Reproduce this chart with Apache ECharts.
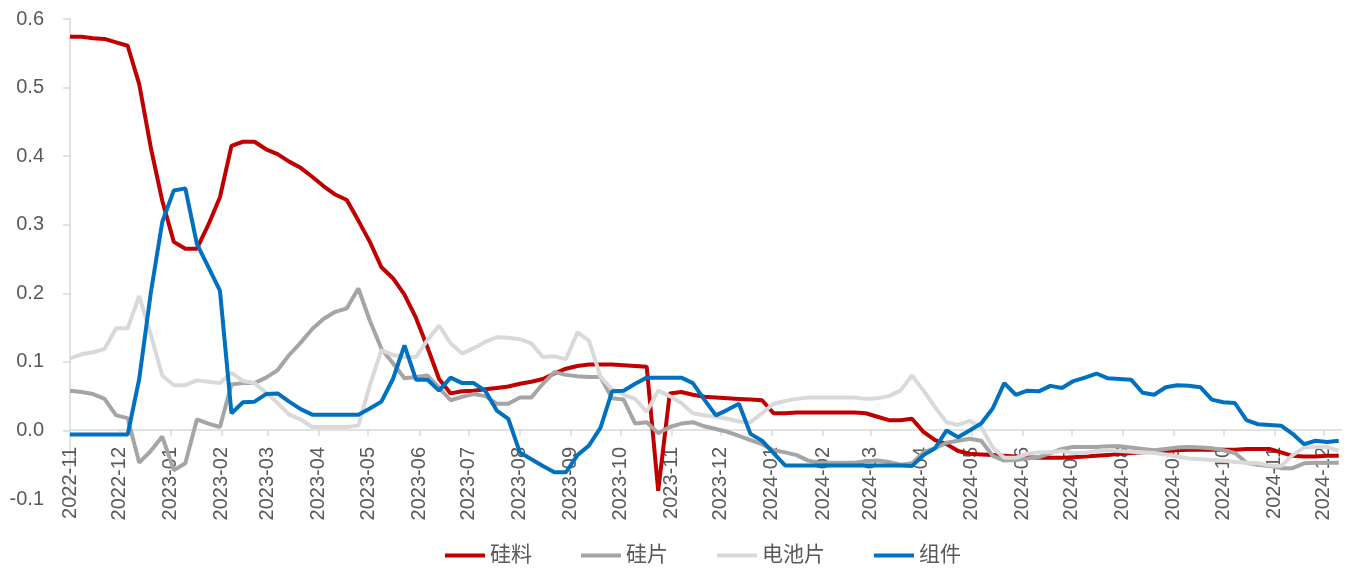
<!DOCTYPE html>
<html>
<head>
<meta charset="utf-8">
<script src="https://cdn.jsdelivr.net/npm/echarts@6/dist/echarts.min.js"></script>
<style>
  html, body { margin: 0; padding: 0; background: #fff; }
  #chart { width: 1357px; height: 568px; }
</style>
</head>
<body>
<div id="chart"></div>
<script>
// month tick labels on the x axis
const monthLabels = [
  '2022-11', '2022-12', '2023-01', '2023-02', '2023-03', '2023-04', '2023-05',
  '2023-06', '2023-07', '2023-08', '2023-09', '2023-10', '2023-11', '2023-12',
  '2024-01', '2024-02', '2024-03', '2024-04', '2024-05', '2024-06', '2024-07',
  '2024-08', '2024-09', '2024-10', '2024-11', '2024-12'
]
// values are sampled once a week, starting here
const startDate = '2022-11-01'
const axisEnd = '2024-12-12'

const seriesNames = ['硅料', '硅片', '电池片', '组件']

const polysilicon = [
  0.574, 0.574, 0.572, 0.571, 0.566, 0.561, 0.505, 0.413, 0.335, 0.275,
  0.265, 0.265, 0.300, 0.340, 0.415, 0.421, 0.421, 0.410, 0.403, 0.392,
  0.383, 0.370, 0.356, 0.344, 0.336, 0.306, 0.275, 0.238, 0.222, 0.198,
  0.164, 0.121, 0.075, 0.054, 0.057, 0.058, 0.060, 0.062, 0.064, 0.068,
  0.071, 0.075, 0.083, 0.090, 0.094, 0.096, 0.096, 0.096, 0.095, 0.094,
  0.093, -0.088, 0.054, 0.056, 0.052, 0.049, 0.048, 0.047, 0.046, 0.045,
  0.044, 0.025, 0.025, 0.026, 0.026, 0.026, 0.026, 0.026, 0.026, 0.025,
  0.020, 0.015, 0.015, 0.017, -0.002, -0.014, -0.020, -0.030, -0.034, -0.035,
  -0.036, -0.037, -0.038, -0.039, -0.040, -0.040, -0.040, -0.039, -0.038, -0.037,
  -0.036, -0.034, -0.033, -0.032, -0.031, -0.030, -0.029, -0.028, -0.028, -0.028,
  -0.028, -0.028, -0.027, -0.027, -0.027, -0.032, -0.037, -0.038, -0.038, -0.037,
  -0.037
]

const wafer = [
  0.058, 0.056, 0.053, 0.046, 0.022, 0.018, -0.047, -0.030, -0.009, -0.058,
  -0.048, 0.016, 0.010, 0.005, 0.067, 0.069, 0.069, 0.077, 0.088, 0.110,
  0.128, 0.148, 0.163, 0.173, 0.178, 0.207, 0.160, 0.119, 0.098, 0.076,
  0.078, 0.080, 0.062, 0.044, 0.049, 0.053, 0.050, 0.039, 0.039, 0.048,
  0.048, 0.068, 0.085, 0.081, 0.079, 0.078, 0.078, 0.047, 0.045, 0.010,
  0.012, -0.004, 0.005, 0.010, 0.012, 0.006, 0.002, -0.002, -0.008, -0.014,
  -0.020, -0.029, -0.032, -0.036, -0.044, -0.047, -0.047, -0.047, -0.047, -0.045,
  -0.044, -0.046, -0.050, -0.048, -0.032, -0.026, -0.018, -0.015, -0.012, -0.015,
  -0.037, -0.044, -0.043, -0.041, -0.039, -0.033, -0.027, -0.024, -0.024, -0.024,
  -0.023, -0.023, -0.025, -0.027, -0.029, -0.027, -0.025, -0.024, -0.025, -0.026,
  -0.029, -0.033, -0.047, -0.050, -0.052, -0.055, -0.055, -0.048, -0.047, -0.047,
  -0.047
]

const cell = [
  0.105, 0.111, 0.114, 0.119, 0.149, 0.149, 0.196, 0.140, 0.080, 0.066,
  0.066, 0.073, 0.071, 0.069, 0.084, 0.072, 0.069, 0.055, 0.040, 0.023,
  0.016, 0.005, 0.005, 0.005, 0.005, 0.007, 0.066, 0.117, 0.110, 0.107,
  0.107, 0.132, 0.153, 0.127, 0.112, 0.120, 0.129, 0.136, 0.135, 0.133,
  0.127, 0.107, 0.108, 0.104, 0.143, 0.131, 0.078, 0.060, 0.052, 0.046,
  0.027, 0.058, 0.050, 0.040, 0.025, 0.022, 0.020, 0.017, 0.013, 0.012,
  0.025, 0.039, 0.043, 0.046, 0.048, 0.048, 0.048, 0.048, 0.048, 0.046,
  0.047, 0.050, 0.058, 0.080, 0.058, 0.034, 0.012, 0.008, 0.014, 0.005,
  -0.025, -0.040, -0.040, -0.034, -0.032, -0.032, -0.030, -0.033, -0.033, -0.030,
  -0.029, -0.030, -0.031, -0.032, -0.033, -0.035, -0.038, -0.041, -0.042, -0.043,
  -0.044, -0.046, -0.047, -0.048, -0.051, -0.052, -0.036, -0.025, -0.024, -0.024,
  -0.030
]

const pvModule = [
  -0.006, -0.006, -0.006, -0.006, -0.006, -0.006, 0.075, 0.200, 0.304, 0.350,
  0.353, 0.272, 0.238, 0.204, 0.025, 0.041, 0.042, 0.053, 0.054, 0.042,
  0.031, 0.023, 0.023, 0.023, 0.023, 0.023, 0.032, 0.042, 0.075, 0.124,
  0.074, 0.074, 0.058, 0.077, 0.069, 0.069, 0.058, 0.029, 0.017, -0.032,
  -0.042, -0.052, -0.061, -0.061, -0.036, -0.022, 0.004, 0.057, 0.058, 0.068,
  0.077, 0.077, 0.077, 0.077, 0.069, 0.045, 0.022, 0.030, 0.039, -0.005,
  -0.015, -0.033, -0.051, -0.051, -0.051, -0.051, -0.051, -0.051, -0.051, -0.051,
  -0.051, -0.051, -0.051, -0.052, -0.036, -0.026, 0.000, -0.010, 0.000, 0.010,
  0.032, 0.069, 0.052, 0.058, 0.057, 0.065, 0.062, 0.072, 0.077, 0.083,
  0.076, 0.075, 0.074, 0.055, 0.052, 0.063, 0.066, 0.065, 0.063, 0.045,
  0.041, 0.040, 0.015, 0.009, 0.008, 0.007, -0.005, -0.020, -0.015, -0.017,
  -0.015
]

const colors = ['#C00000', '#A5A5A5', '#D9D9D9', '#0070C0']
const DAY = 24 * 3600 * 1000

function toTime(s) {
  const p = s.split('-')
  return Date.UTC(+p[0], +p[1] - 1, +(p[2] || 1))
}

const start = toTime(startDate)
const end = toTime(axisEnd)
const dates = polysilicon.map((v, i) => start + i * 7 * DAY)
const monthTicks = monthLabels.map(toTime)

function pairs(values) {
  return values.map((v, i) => [dates[i], v])
}

const textColor = '#595959'
const axisColor = '#D9D9D9'
const latin = "'Liberation Sans', Arial, 'Noto Sans CJK SC', sans-serif"

const option = {
  animation: false,
  backgroundColor: '#fff',
  color: colors,
  grid: [
    // plot area, -0.1 .. 0.6
    { left: 70, right: 15, top: 19, bottom: 69, outerBoundsMode: 'none' },
    // same width, bottom edge on the zero line: carries the date axis
    { left: 70, right: 15, top: 19, bottom: 138, outerBoundsMode: 'none' }
  ],
  legend: {
    data: seriesNames,
    left: 440,
    top: 540,
    icon: 'rect',
    itemWidth: 40,
    itemHeight: 4,
    itemGap: 49,
    textStyle: { fontSize: 21, color: textColor, fontFamily: latin }
  },
  xAxis: [
    { type: 'value', gridIndex: 0, min: start, max: end, show: false },
    {
      type: 'value',
      gridIndex: 1,
      min: start,
      max: end,
      axisLine: { show: true, lineStyle: { color: axisColor, width: 1.5 } },
      axisTick: { show: true, length: 6, lineStyle: { color: axisColor, width: 1.5 }, customValues: monthTicks },
      splitLine: { show: false },
      axisLabel: {
        customValues: monthTicks,
        rotate: 90,
        margin: 17,
        fontSize: 20,
        color: textColor,
        fontFamily: latin,
        formatter(v) {
          return monthLabels[monthTicks.indexOf(v)] || ''
        }
      }
    }
  ],
  yAxis: [
    {
      type: 'value',
      gridIndex: 0,
      min: -0.1,
      max: 0.6,
      interval: 0.1,
      axisLine: { show: true, lineStyle: { color: axisColor, width: 1.5 } },
      axisTick: { show: true, length: 7, lineStyle: { color: axisColor, width: 1.5 } },
      splitLine: { show: false },
      axisLabel: {
        margin: 26,
        fontSize: 20,
        color: textColor,
        fontFamily: latin,
        formatter(v) { return v.toFixed(1) }
      }
    },
    { type: 'value', gridIndex: 1, min: 0, max: 0.6, show: false }
  ],
  series: [polysilicon, wafer, cell, pvModule].map((vals, i) => ({
    name: seriesNames[i],
    type: 'line',
    xAxisIndex: 0,
    yAxisIndex: 0,
    data: pairs(vals),
    symbol: 'none',
    lineStyle: { width: 4, color: colors[i] },
    itemStyle: { color: colors[i] }
  }))
}

const chart = echarts.init(document.getElementById('chart'))
chart.setOption(option)
</script>
</body>
</html>
